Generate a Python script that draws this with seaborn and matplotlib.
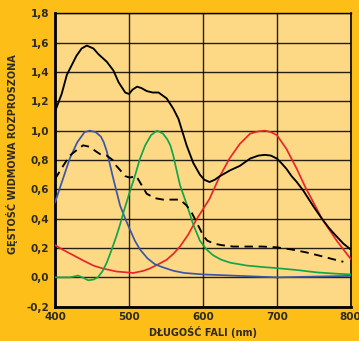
import matplotlib
matplotlib.use('Agg')
import matplotlib.pyplot as plt
import pandas as pd
import seaborn as sns
from matplotlib.ticker import FuncFormatter

# Data (wavelength in nm, spectral density)
black_nm = [400, 409, 416, 422, 429, 436, 443, 452, 459, 470, 479, 486, 495, 500, 505, 511,
            517, 524, 532, 540, 551, 560, 567, 578, 587, 596, 602, 609, 616, 623, 630, 637,
            650, 664, 675, 684, 692, 700, 706, 713, 720, 727, 736, 750, 761, 770, 777, 790, 800]
black_val = [1.13, 1.25, 1.38, 1.44, 1.51, 1.56, 1.58, 1.56, 1.52, 1.47, 1.41, 1.33, 1.26, 1.25, 1.28, 1.30,
             1.29, 1.27, 1.26, 1.26, 1.22, 1.15, 1.08, 0.90, 0.78, 0.70, 0.665, 0.65, 0.665, 0.69, 0.71, 0.73,
             0.76, 0.81, 0.83, 0.835, 0.83, 0.81, 0.78, 0.74, 0.69, 0.65, 0.59, 0.48, 0.40, 0.34, 0.30, 0.23, 0.19]

dash_nm = [400, 411, 420, 430, 438, 447, 455, 461, 470, 478, 483, 490, 495, 501, 510, 517,
           524, 535, 546, 560, 569, 578, 585, 591, 596, 601, 606, 615, 625, 641, 660, 680,
           700, 720, 740, 760, 775, 790]
dash_val = [0.67, 0.76, 0.83, 0.87, 0.90, 0.89, 0.86, 0.84, 0.83, 0.80, 0.76, 0.72, 0.69, 0.68, 0.69, 0.63,
            0.57, 0.54, 0.53, 0.53, 0.53, 0.49, 0.44, 0.38, 0.33, 0.28, 0.25, 0.23, 0.22, 0.21, 0.21, 0.21,
            0.205, 0.19, 0.17, 0.145, 0.125, 0.106]

blue_nm = [400, 410, 420, 430, 440, 447, 455, 462, 466, 470, 479, 488, 495, 501, 508, 515, 525,
           535, 545, 560, 575, 600, 650, 700, 750, 800]
blue_val = [0.51, 0.66, 0.81, 0.92, 0.99, 1.0, 0.99, 0.96, 0.92, 0.86, 0.67, 0.49, 0.40, 0.33, 0.25, 0.19, 0.13,
            0.09, 0.07, 0.045, 0.03, 0.02, 0.01, 0.0, 0.005, 0.01]

green_nm = [400, 410, 420, 425, 431, 437, 445, 452, 458, 464, 470, 476, 483, 488, 493, 501,
            508, 515, 522, 530, 538, 546, 552, 556, 560, 564, 569, 578, 587, 596, 605, 614,
            625, 637, 660, 682, 700, 727, 754, 780, 800]
green_val = [0.0, 0.0, 0.0, 0.005, 0.012, 0.0, -0.02, -0.015, 0.0, 0.04, 0.10, 0.18, 0.28, 0.36, 0.45, 0.58,
             0.69, 0.81, 0.90, 0.97, 1.0, 0.98, 0.94, 0.90, 0.83, 0.74, 0.63, 0.50, 0.36, 0.25, 0.19, 0.15,
             0.12, 0.10, 0.08, 0.07, 0.063, 0.05, 0.034, 0.025, 0.02]

red_nm = [400, 410, 425, 440, 452, 465, 483, 506, 520, 528, 540, 551, 560, 569, 580, 592,
          609, 622, 636, 650, 664, 675, 684, 692, 700, 713, 727, 740, 747, 761, 781, 800]
red_val = [0.22, 0.19, 0.15, 0.11, 0.08, 0.06, 0.04, 0.03, 0.045, 0.06, 0.09, 0.12, 0.16, 0.21, 0.29, 0.40,
           0.535, 0.68, 0.81, 0.91, 0.98, 0.995, 1.0, 0.99, 0.97, 0.876, 0.74, 0.60, 0.535, 0.40, 0.25, 0.125]

x_ticks = [400, 500, 600, 700, 800]
y_ticks = [-0.2, 0.0, 0.2, 0.4, 0.6, 0.8, 1.0, 1.2, 1.4, 1.6, 1.8]

outer_bg = '#FDBF17'
inner_bg = '#FDD985'
text_col = '#2E2A22'

sns.set_style('white')
plt.rcParams['font.family'] = ['DejaVu Sans']

fig = plt.figure(figsize=(3.59, 3.41), dpi=100, facecolor=outer_bg)
ax = fig.add_axes([0.1532, 0.1006, 0.8238, 0.8604])
ax.set_facecolor(inner_bg)

series = [
    (red_nm, red_val, '#E8262A', 1.25, '-'),
    (blue_nm, blue_val, '#3A56A8', 1.25, '-'),
    (green_nm, green_val, '#12A54A', 1.25, '-'),
    (dash_nm, dash_val, 'black', 1.35, '--'),
    (black_nm, black_val, 'black', 1.35, '-'),
]
for nm, val, col, lw, ls in series:
    d = pd.DataFrame({'nm': nm, 'val': val})
    sns.lineplot(data=d, x='nm', y='val', color=col, linewidth=lw, linestyle=ls,
                 estimator=None, sort=False, ax=ax, zorder=3)
ax.lines[3].set_dashes([4.5, 3])

ax.set_xlim(400, 800)
ax.set_ylim(-0.2, 1.8)
ax.set_xticks(x_ticks)
ax.set_yticks(y_ticks)
ax.yaxis.set_major_formatter(FuncFormatter(lambda v, p: f'{v:.1f}'.replace('.', ',').replace('-0,0', '0,0')))
ax.grid(True, color='black', linewidth=1.0, alpha=0.85, zorder=1)
ax.set_axisbelow(True)
ax.tick_params(length=0, pad=4, labelsize=7.5, labelcolor=text_col)
for lab in ax.get_xticklabels() + ax.get_yticklabels():
    lab.set_fontweight('bold')

for side, w in [('left', 2.0), ('bottom', 2.0), ('right', 1.2), ('top', 1.0)]:
    ax.spines[side].set_visible(True)
    ax.spines[side].set_color('black')
    ax.spines[side].set_linewidth(w)

ax.set_xlabel('DŁUGOŚĆ FALI (nm)', fontsize=7, fontweight='bold', color=text_col, labelpad=3)
ax.set_ylabel('GĘSTOŚĆ WIDMOWA ROZPROSZONA', fontsize=7, fontweight='bold', color=text_col)
ax.yaxis.set_label_coords(-0.125, 0.52)

fig.savefig('out.png', dpi=100, facecolor=outer_bg)
